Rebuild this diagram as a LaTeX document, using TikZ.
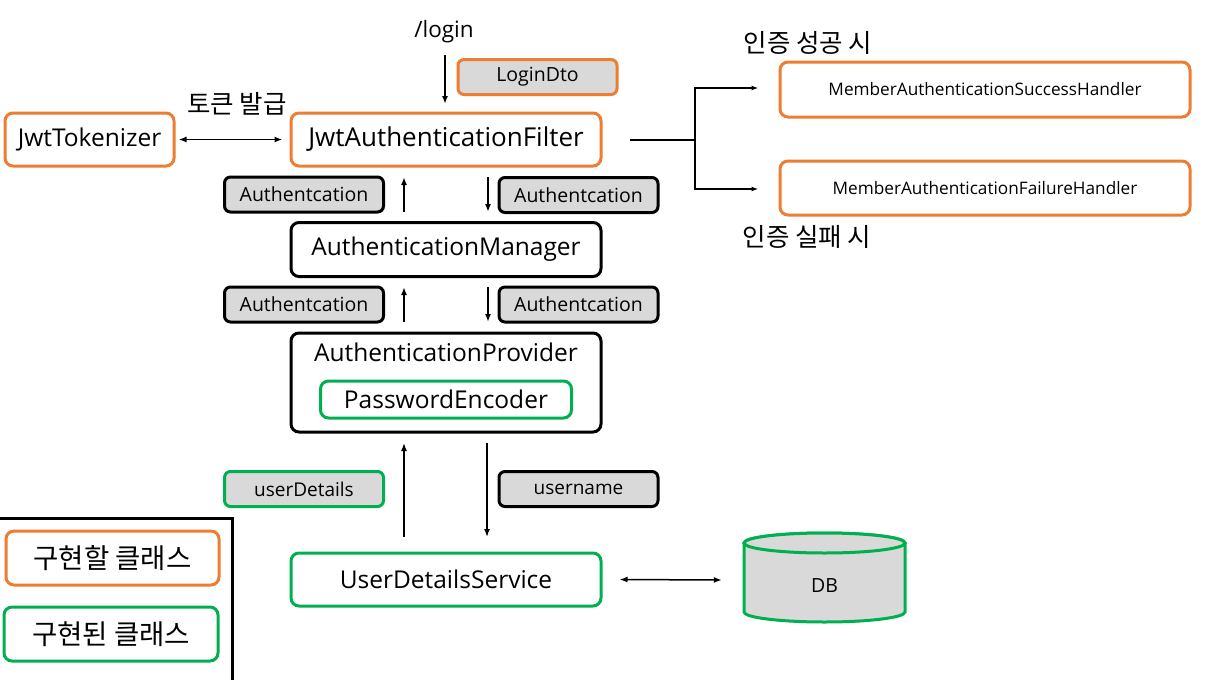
\documentclass[tikz,border=0pt]{standalone}
\usepackage{fontspec}
\setmainfont{Open Sans}
\newfontfamily\kr{Noto Sans CJK KR}
\usetikzlibrary{arrows.meta,calc}
\definecolor{ora}{HTML}{ED7D31}
\definecolor{grn}{HTML}{00B050}
\definecolor{gry}{HTML}{D9D9D9}
\tikzset{
  box/.style={draw, rounded corners=8pt, line width=3pt, inner sep=0pt, fill=white},
  obox/.style={box, draw=ora},
  bbox/.style={box, draw=black},
  gbox/.style={box, draw=grn},
  tag/.style={draw, rounded corners=6pt, line width=3pt, inner sep=0pt, fill=gry,
     minimum width=159pt, minimum height=35pt, font=\fontsize{19.5}{22}\selectfont},
  big/.style={font=\fontsize{24.5}{28}\selectfont},
  arr/.style={-{Latex[length=8pt,width=6pt]}, line width=1.8pt},
  darr/.style={{Latex[length=8pt,width=6pt]}-{Latex[length=8pt,width=6pt]}, line width=1.8pt},
  harr/.style={-{Latex[length=7pt,width=5pt]}, line width=1.5pt},
  lbl/.style={inner sep=0pt},
}
\begin{document}
\begin{tikzpicture}[x=1pt,y=-1pt]
\useasboundingbox (0,0) rectangle (1216,680);

% main column
\node[obox, font=\fontsize{26}{30}\selectfont, minimum width=310pt, minimum height=53pt] (filter) at (446,139.5) {JwtAuthenticationFilter};
\node[obox, big, minimum width=169pt, minimum height=53pt] (tok) at (89.5,139.5) {JwtTokenizer};
\node[bbox, big, minimum width=310pt, minimum height=54pt] (mgr) at (446,249.5) {AuthenticationManager};
\node[bbox, minimum width=310pt, minimum height=99pt] (prov) at (446,382.5) {};
\node[lbl, big, anchor=center] (provt) at (446,352) {AuthenticationProvider};
\node[gbox, big, minimum width=251pt, minimum height=37pt] (enc) at (446,399.5) {PasswordEncoder};
\node[gbox, big, minimum width=310pt, minimum height=53pt] (uds) at (446,579.5) {UserDetailsService};

% tags
\node[tag, draw=ora] (dto) at (537.5,77) {LoginDto};
\node[tag, draw=black] (a1) at (304,194.5) {Authentcation};
\node[tag, draw=black] (a2) at (578.5,195) {Authentcation};
\node[tag, draw=black] (a3) at (304,304.5) {Authentcation};
\node[tag, draw=black] (a4) at (578.5,304.5) {Authentcation};
\node[tag, draw=grn, font=\fontsize{19}{22}\selectfont] (ud) at (304,489) {userDetails};
\node[tag, draw=black, font=\fontsize{19}{22}\selectfont] (un) at (578.5,489) {username};

% labels
\node[lbl, font=\fontsize{22.5}{26}\selectfont] (login) at (444,32) {/login};
\node[lbl, font=\kr\fontsize{25.5}{28}\selectfont] (tokl) at (237,104) {토큰 발급};
\node[lbl, font=\kr\fontsize{25.5}{28}\selectfont] (succl) at (808,43) {인증 성공 시};
\node[lbl, font=\kr\fontsize{25.5}{28}\selectfont] (faill) at (807,237) {인증 실패 시};

% handlers
\node[obox, font=\fontsize{17.2}{20}\selectfont, minimum width=410pt, minimum height=55pt] (succ) at (985,89.5) {MemberAuthenticationSuccessHandler};
\node[obox, font=\fontsize{17.2}{20}\selectfont, minimum width=410pt, minimum height=54pt] (fail) at (985,188) {MemberAuthenticationFailureHandler};

% DB cylinder
\node[lbl, minimum width=161pt, minimum height=89pt] (db) at (824.5,587) {};
\fill[gry, draw=grn, line width=3pt]
  (744,543) -- (744,612) arc[start angle=180, end angle=360, x radius=80.5pt, y radius=10pt]
  -- (905,543) arc[start angle=0, end angle=180, x radius=80.5pt, y radius=10pt] -- cycle;
\draw[grn, line width=3pt, fill=gry] (824.5,543) ellipse[x radius=80.5pt, y radius=10pt];
\node[lbl, font=\fontsize{19.5}{22}\selectfont] (dbt) at (824.5,586) {DB};

% legend
\draw[line width=3pt] (-5,518) -- (232,518) -- (232,685);
\node[obox, font=\kr\fontsize{27.5}{30}\selectfont, minimum width=213pt, minimum height=54pt] (leg1) at (112.5,558) {구현할 클래스};
\node[gbox, font=\kr\fontsize{27.5}{30}\selectfont, minimum width=214pt, minimum height=54pt] (leg2) at (111,634) {구현된 클래스};

% connectors
\coordinate (lgtop) at (445,55);
\draw[arr] (lgtop) -- (445,104);
\draw[darr] (tok.east) ++(3,0) coordinate (tke) -- ($(filter.west)+(-7,0)$) coordinate (flw);

\coordinate (fo) at (630,140);
\coordinate (jn) at (695,140);
\draw[line width=1.5pt] (fo) -- (jn);
\draw[harr] (jn) |- ($(succ.west)+(-20,-1.5)$);
\draw[harr] (jn) |- ($(fail.west)+(-20,1)$);

\draw[arr] (404,212) coordinate (u1s) -- (404,177) coordinate (u1e);
\draw[arr] (488,177) coordinate (d1s) -- (488,212) coordinate (d1e);
\draw[arr] (404,322) coordinate (u2s) -- (404,287) coordinate (u2e);
\draw[arr] (488,287) coordinate (d2s) -- (488,322) coordinate (d2e);
\draw[arr, line width=1.5pt] (404,537) coordinate (u3s) -- (404,443) coordinate (u3e);
\draw[arr, line width=1.5pt] (487,443) coordinate (d3s) -- (487,537) coordinate (d3e);

\draw[darr, line width=1.5pt] ($(uds.east)+(17,0)$) coordinate (ue) -- ($(db.west)+(-22,-7)$) coordinate (dw);
\end{tikzpicture}
\end{document}
